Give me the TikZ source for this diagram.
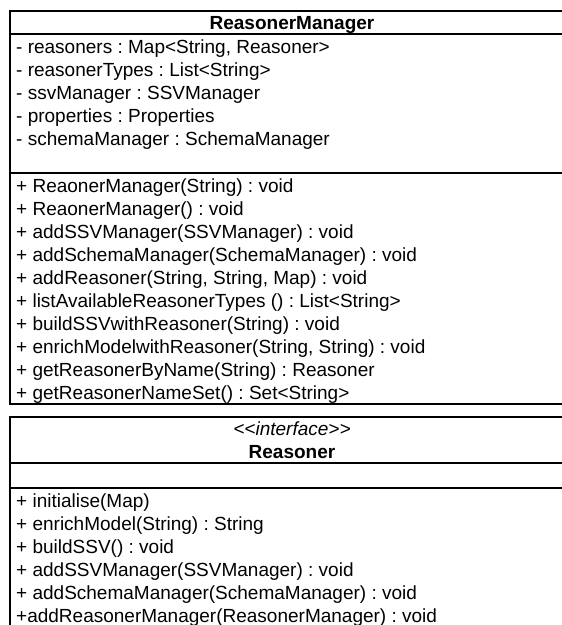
\documentclass[tikz,border=0pt]{standalone}
\usepackage{fontspec}
\setmainfont{Liberation Sans}
\usepackage{tikz}
\frenchspacing

\begin{document}
\begin{tikzpicture}[x=1pt, y=-1pt,
    classbox/.style={draw, line width=1.6pt},
    member/.style={anchor=base west, inner sep=0pt, font=\fontsize{19}{23}\selectfont},
    header/.style={anchor=base, inner sep=0pt, font=\fontsize{19}{23}\selectfont\bfseries}]
    \useasboundingbox (0,0) rectangle (562,625);
    \fill[white] (0,0) rectangle (562,625);
    \clip (0,0) rectangle (562,625);

    % Class ReasonerManager
    \draw[classbox] (10,11) rectangle (574,404);
    \draw[classbox] (10,34) -- (574,34);
    \draw[classbox] (10,173) -- (574,173);
    \node[header] (rmName) at (292,29.5) {ReasonerManager};

    % Attributes
    \node[member] (rmAttrA) at (16,53.5) {- reasoners : Map<String, Reasoner>};
    \node[member] (rmAttrB) at (16,76.5) {- reasonerTypes : List<String>};
    \node[member] (rmAttrC) at (16,99.5) {- ssvManager : SSVManager};
    \node[member] (rmAttrD) at (16,122.5) {- properties : Properties};
    \node[member] (rmAttrE) at (16,145.5) {- schemaManager : SchemaManager};

    % Operations
    \node[member] (rmOpA) at (16,192.5) {+ ReaonerManager(String) : void};
    \node[member] (rmOpB) at (16,215.5) {+ ReaonerManager() : void};
    \node[member] (rmOpC) at (16,238.5) {+ addSSVManager(SSVManager) : void};
    \node[member] (rmOpD) at (16,261.5) {+ addSchemaManager(SchemaManager) : void};
    \node[member] (rmOpE) at (16,284.5) {+ addReasoner(String, String, Map) : void};
    \node[member] (rmOpF) at (16,307.5) {+ listAvailableReasonerTypes () : List<String>};
    \node[member] (rmOpG) at (16,330.5) {+ buildSSVwithReasoner(String) : void};
    \node[member] (rmOpH) at (16,353.5) {+ enrichModelwithReasoner(String, String) : void};
    \node[member] (rmOpI) at (16,376.5) {+ getReasonerByName(String) : Reasoner};
    \node[member] (rmOpJ) at (16,399.5) {+ getReasonerNameSet() : Set<String>};

    % Interface Reasoner
    \draw[classbox] (10,417) rectangle (574,660);
    \draw[classbox] (10,463) -- (574,463);
    \draw[classbox] (10,488) -- (574,488);
    \node[header, font=\fontsize{19}{23}\selectfont\itshape] (rStereo) at (292,435.5) {<\kern0pt<interface>\kern0pt>};
    \node[header] (rName) at (292,458.5) {Reasoner};

    % Operations
    \node[member] (rOpA) at (16,507) {+ initialise(Map)};
    \node[member] (rOpB) at (16,530) {+ enrichModel(String) : String};
    \node[member] (rOpC) at (16,553) {+ buildSSV() : void};
    \node[member] (rOpD) at (16,576) {+ addSSVManager(SSVManager) : void};
    \node[member] (rOpE) at (16,599) {+ addSchemaManager(SchemaManager) : void};
    \node[member] (rOpF) at (16,622) {+addReasonerManager(ReasonerManager) : void};
\end{tikzpicture}
\end{document}
